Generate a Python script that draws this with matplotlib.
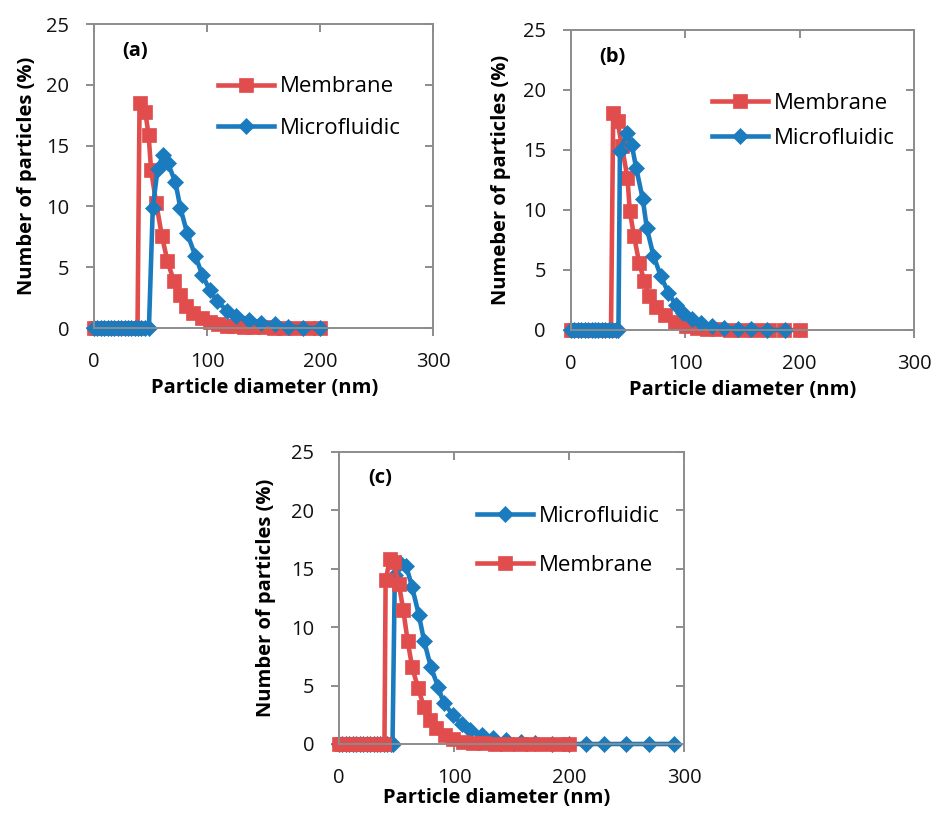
import matplotlib
matplotlib.use("Agg")
import matplotlib.pyplot as plt

plt.rcParams['font.family'] = ['Open Sans', 'DejaVu Sans']

RED = '#E14C4C'
BLUE = '#1B7BBF'
SPINE = '#8C8C8C'

# ---- data (x = diameter in nm, y = % of particles) ----
# (a)
a_mem_x = [0, 3, 6, 9, 12, 15, 18, 21, 24, 27, 30, 33, 36, 38.5,
           40.3, 45.3, 48.3, 50.5, 55, 60, 65, 70.5, 76.4, 81.8, 88, 95.7,
           103, 110, 118, 125, 133, 141, 150, 159, 168, 178, 189, 200]
a_mem_y = [0, 0, 0, 0, 0, 0, 0, 0, 0, 0, 0, 0, 0, 0,
           18.5, 17.8, 15.9, 13.0, 10.3, 7.6, 5.5, 3.9, 2.7, 1.8, 1.2, 0.8,
           0.5, 0.3, 0.2, 0.15, 0.1, 0.07, 0.05, 0.03, 0.02, 0.01, 0, 0]
a_mic_x = [0, 3, 6, 9, 12, 15, 18, 21, 24, 27, 30, 33, 36, 39, 42, 45, 48.6,
           52, 56.3, 61, 65.2, 72, 76.4, 82.4, 89.8, 95.7, 102.5, 109, 118,
           126, 137, 148, 160, 172, 185, 200]
a_mic_y = [0, 0, 0, 0, 0, 0, 0, 0, 0, 0, 0, 0, 0, 0, 0, 0, 0,
           9.9, 13.1, 14.2, 13.6, 12.0, 9.9, 7.8, 5.9, 4.4, 3.1, 2.2, 1.4,
           1.0, 0.7, 0.45, 0.3, 0.12, 0.04, 0]

# (b)
b_mem_x = [0, 3, 6, 9, 12, 15, 18, 21, 24, 27, 30, 33, 35,
           36.9, 40.7, 44.5, 49.4, 51.4, 55.2, 59.6, 64, 68.5, 74.7, 82,
           90.7, 101, 110, 119, 129, 139, 150, 161, 173, 186, 200]
b_mem_y = [0, 0, 0, 0, 0, 0, 0, 0, 0, 0, 0, 0, 0,
           18.1, 17.4, 15.3, 12.7, 9.9, 7.8, 5.6, 4.1, 2.8, 1.9, 1.25,
           0.7, 0.3, 0.15, 0.1, 0.06, 0.04, 0.02, 0.01, 0, 0, 0]
b_mic_x = [0, 3, 6, 9, 12, 15, 18, 21, 24, 27, 30, 33, 36, 39, 41.5,
           42.8, 48.8, 53.2, 57, 62.8, 66.3, 72.1, 78.5, 85.2, 91.5, 98.3,
           106, 114, 123.5, 134, 146, 157.5, 171, 187]
b_mic_y = [0, 0, 0, 0, 0, 0, 0, 0, 0, 0, 0, 0, 0, 0, 0,
           14.9, 16.4, 15.4, 13.5, 10.9, 8.5, 6.2, 4.5, 3.1, 2.1, 1.4,
           0.9, 0.6, 0.35, 0.2, 0.1, 0.05, 0, 0]

# (c)
c_mic_x = [0, 3, 6, 9, 12, 15, 18, 21, 24, 27, 30, 33, 36, 39, 42, 45, 46.5,
           48.5, 53, 58.5, 63.6, 69.4, 74, 79.8, 86.1, 91, 99.2, 106.5,
           113.7, 123.9, 134, 145.5, 158.6, 170, 185, 200, 214.8, 230.7,
           249.5, 269.7, 291.4]
c_mic_y = [0, 0, 0, 0, 0, 0, 0, 0, 0, 0, 0, 0, 0, 0, 0, 0, 0,
           14.5, 15.5, 15.2, 13.4, 11.05, 8.8, 6.6, 4.9, 3.5, 2.5, 1.7,
           1.2, 0.77, 0.5, 0.3, 0.15, 0.05, 0, 0, 0, 0,
           0, 0, 0]
c_mem_x = [0, 3, 6, 9, 12, 15, 18, 21, 24, 27, 30, 33, 36, 39.5,
           40.5, 44.2, 47.5, 52, 55.8, 59.6, 63.6, 68.8, 73.7, 78.9, 84.7,
           91.9, 99.1, 107.8, 116.5, 126, 136, 146, 157, 168, 180, 191, 200]
c_mem_y = [0, 0, 0, 0, 0, 0, 0, 0, 0, 0, 0, 0, 0, 0,
           14.0, 15.8, 15.6, 13.7, 11.5, 8.85, 6.57, 4.77, 3.2, 2.06, 1.34,
           0.77, 0.4, 0.2, 0.1, 0.05, 0.03, 0.02, 0.01, 0, 0, 0, 0]

x_ticks = [0, 100, 200, 300]
y_ticks = [0, 5, 10, 15, 20, 25]

fig = plt.figure(figsize=(9.41, 8.14), dpi=100)

# axes rectangles in figure fraction (left, bottom, width, height)
ax_a = fig.add_axes([0.0999, 0.597, 0.3603, 0.3735])
ax_b = fig.add_axes([0.6068, 0.5946, 0.3645, 0.3686])
ax_c = fig.add_axes([0.3603, 0.0860, 0.3666, 0.3590])


def style(ax, ylabel, panel, ylabpos, xlabpos):
    ax.set_xlim(0, 300)
    ax.set_ylim(0, 25)
    ax.set_xticks(x_ticks)
    ax.set_yticks(y_ticks)
    for s in ax.spines.values():
        s.set_color(SPINE)
        s.set_linewidth(1.4)
    ax.tick_params(axis='both', which='major', direction='out', length=6,
                   width=1.4, color=SPINE, labelsize=14.5, labelcolor='#111111')
    ax.tick_params(axis='x', pad=11)
    ax.tick_params(axis='y', pad=12)
    ax.tick_params(top=True, right=True, labeltop=False, labelright=False)
    for t in ax.xaxis.get_major_ticks():
        t.tick2line.set_marker(3)  # top ticks point into the box
    for t in ax.yaxis.get_major_ticks():
        t.tick2line.set_marker(0)  # right ticks point into the box
    ax.set_ylabel(ylabel, fontsize=14.5, fontweight='bold')
    ax.set_xlabel('Particle diameter (nm)', fontsize=14.5, fontweight='bold')
    ax.yaxis.set_label_coords(ylabpos, 0.5)
    ax.xaxis.set_label_coords(xlabpos[0], xlabpos[1])
    ax.text(0.12, 0.91, panel, transform=ax.transAxes, fontsize=14.5,
            fontweight='bold', ha='center', va='center')


line_kw = dict(linewidth=3.3, markeredgewidth=0.5, clip_on=False)
mem_kw = dict(color=RED, marker='s', markersize=10, label='Membrane')
mic_kw = dict(color=BLUE, marker='D', markersize=7.8, label='Microfluidic')
leg_kw = dict(loc='upper left', frameon=False, fontsize=16, handlelength=2.5,
              handletextpad=0.3, borderpad=0, borderaxespad=0)

# (a)
ax_a.plot(a_mem_x, a_mem_y, **mem_kw, **line_kw)
ax_a.plot(a_mic_x, a_mic_y, **mic_kw, **line_kw)
style(ax_a, 'Number of particles (%)', '(a)', -0.168, (0.502, -0.165))
ax_a.legend(bbox_to_anchor=(0.366, 0.828), labelspacing=0.93, **leg_kw)

# (b)
ax_b.plot(b_mem_x, b_mem_y, **mem_kw, **line_kw)
ax_b.plot(b_mic_x, b_mic_y, **mic_kw, **line_kw)
style(ax_b, 'Numeber of particles (%)', '(b)', -0.175, (0.50, -0.165))
ax_b.legend(bbox_to_anchor=(0.411, 0.79), labelspacing=0.64, **leg_kw)

# (c)
ax_c.plot(c_mic_x, c_mic_y, **mic_kw, **line_kw)
ax_c.plot(c_mem_x, c_mem_y, **mem_kw, **line_kw)
style(ax_c, 'Number of particles (%)', '(c)', -0.183, (0.458, -0.15))
ax_c.legend(bbox_to_anchor=(0.40, 0.815), labelspacing=1.26, **leg_kw)

fig.savefig('out.png', dpi=100)
